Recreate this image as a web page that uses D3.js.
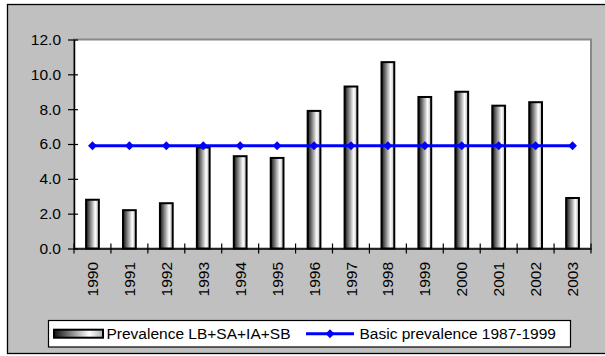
<!DOCTYPE html>
<html>
<head>
<meta charset="utf-8">
<script src="https://cdn.jsdelivr.net/npm/d3@7"></script>
<style>
  body { margin: 0; background: #fff; }
  svg { display: block; }
  text { font-family: Arial, "Liberation Sans", sans-serif; fill: #000; }
</style>
</head>
<body>
<svg id="chart" width="605" height="356"></svg>
<script>
// Yearly values
const years = ["1990", "1991", "1992", "1993", "1994", "1995", "1996",
               "1997", "1998", "1999", "2000", "2001", "2002", "2003"];
const prevalence = [2.8, 2.2, 2.6, 5.8, 5.3, 5.2, 7.9, 9.3, 10.7, 8.7, 9.0, 8.2, 8.4, 2.9];
const basicPrevalence = [5.9, 5.9, 5.9, 5.9, 5.9, 5.9, 5.9, 5.9, 5.9, 5.9, 5.9, 5.9, 5.9, 5.9];
const yTicks = [0, 2, 4, 6, 8, 10, 12];
const seriesNames = ["Prevalence LB+SA+IA+SB", "Basic prevalence 1987-1999"];

const svg = d3.select("#chart");
const FONT = 15.5;
const FAMILY = "Arial, 'Liberation Sans', sans-serif";

// plot frame
const plot = { left: 74, right: 591, top: 39.5, bottom: 248.5 };

const x = d3.scaleBand()
  .domain(years)
  .range([plot.left, plot.right])
  .paddingInner(0.6)
  .paddingOuter(0.3);

const y = d3.scaleLinear()
  .domain([0, 12])
  .range([plot.bottom, plot.top]);

// bar fill: dark on the left, white toward the right
const defs = svg.append("defs");
const grad = defs.append("linearGradient")
  .attr("id", "barGrad")
  .attr("x1", "0%").attr("x2", "100%").attr("y1", "0%").attr("y2", "0%");
[[0, "#111"], [0.22, "#5a5a5a"], [0.72, "#ffffff"], [1, "#b0b0b0"]].forEach(([o, c]) =>
  grad.append("stop").attr("offset", o).attr("stop-color", c));

// chart area background
svg.append("rect")
  .attr("x", 7.5).attr("y", 4.5)
  .attr("width", 600).attr("height", 349)
  .attr("fill", "#c0c0c0")
  .attr("stroke", "#000").attr("stroke-width", 1.3);

// plot area
svg.append("rect")
  .attr("x", plot.left).attr("y", plot.top)
  .attr("width", plot.right - plot.left).attr("height", plot.bottom - plot.top)
  .attr("fill", "#fff")
  .attr("stroke", "#888").attr("stroke-width", 2);

// bars
svg.append("g").selectAll("rect")
  .data(years.map((yr, i) => ({ yr, v: prevalence[i] })))
  .join("rect")
  .attr("x", d => x(d.yr) + 1)
  .attr("width", x.bandwidth() - 2)
  .attr("y", d => y(d.v))
  .attr("height", d => y(0) - y(d.v))
  .attr("fill", "url(#barGrad)")
  .attr("stroke", "#000")
  .attr("stroke-width", 2);

// y axis
const yAxis = svg.append("g")
  .attr("transform", `translate(${plot.left},0)`)
  .call(d3.axisLeft(y).tickValues(yTicks).tickFormat(d3.format(".1f"))
    .tickSizeInner(6).tickSizeOuter(0).tickPadding(7));
yAxis.attr("font-family", FAMILY);
yAxis.select(".domain").attr("stroke", "#000").attr("stroke-width", 1.5);
yAxis.selectAll(".tick line").attr("x2", -6).attr("x1", 4).attr("stroke", "#000").attr("stroke-width", 1.2);
yAxis.selectAll(".tick text").attr("font-size", FONT);

// x axis line and labels
const xAxis = svg.append("g")
  .attr("transform", `translate(0,${plot.bottom})`)
  .call(d3.axisBottom(x).tickSize(0).tickSizeOuter(0).tickPadding(0));
xAxis.attr("font-family", FAMILY);
xAxis.select(".domain").attr("stroke", "#000").attr("stroke-width", 1.5);
xAxis.selectAll(".tick text")
  .attr("font-size", FONT)
  .attr("transform", "rotate(-90)")
  .attr("text-anchor", "end")
  .attr("x", -13.5)
  .attr("y", 0)
  .attr("dy", "0.36em");

// category boundary ticks crossing the x axis
const step = x.step();
const boundaries = years.map(yr => x(yr) + x.bandwidth() / 2 - step / 2)
  .concat([x(years[years.length - 1]) + x.bandwidth() / 2 + step / 2]);
svg.append("g").selectAll("line")
  .data(boundaries)
  .join("line")
  .attr("x1", d => d).attr("x2", d => d)
  .attr("y1", plot.bottom - 5).attr("y2", plot.bottom + 5)
  .attr("stroke", "#000").attr("stroke-width", 1.2);

// reference line with diamond markers
const cx = yr => x(yr) + x.bandwidth() / 2;
const linePts = years.map((yr, i) => [cx(yr), y(basicPrevalence[i])]);
svg.append("path")
  .attr("d", d3.line()(linePts))
  .attr("fill", "none")
  .attr("stroke", "#0000ff")
  .attr("stroke-width", 3);
const diamond = d3.symbol().type(d3.symbolDiamond2).size(50);
svg.append("g").selectAll("path")
  .data(linePts)
  .join("path")
  .attr("d", diamond)
  .attr("transform", d => `translate(${d[0]},${d[1]})`)
  .attr("fill", "#0000ff");

// legend
const lg = svg.append("g").attr("font-family", FAMILY);
lg.append("rect")
  .attr("x", 48.5).attr("y", 320.5)
  .attr("width", 522).attr("height", 26.5)
  .attr("fill", "#fff").attr("stroke", "#000").attr("stroke-width", 1.2);
const ly = 333.7;
lg.append("rect")
  .attr("x", 54).attr("y", ly - 4)
  .attr("width", 49).attr("height", 8)
  .attr("fill", "url(#barGrad)").attr("stroke", "#000").attr("stroke-width", 2);
lg.append("text")
  .attr("x", 106.5).attr("y", ly).attr("dy", "0.36em")
  .attr("font-size", FONT)
  .text(seriesNames[0]);
lg.append("line")
  .attr("x1", 306).attr("x2", 354).attr("y1", ly).attr("y2", ly)
  .attr("stroke", "#0000ff").attr("stroke-width", 3);
lg.append("path")
  .attr("d", diamond)
  .attr("transform", `translate(330,${ly})`)
  .attr("fill", "#0000ff");
lg.append("text")
  .attr("x", 359.5).attr("y", ly).attr("dy", "0.36em")
  .attr("font-size", FONT)
  .text(seriesNames[1]);
</script>
</body>
</html>
